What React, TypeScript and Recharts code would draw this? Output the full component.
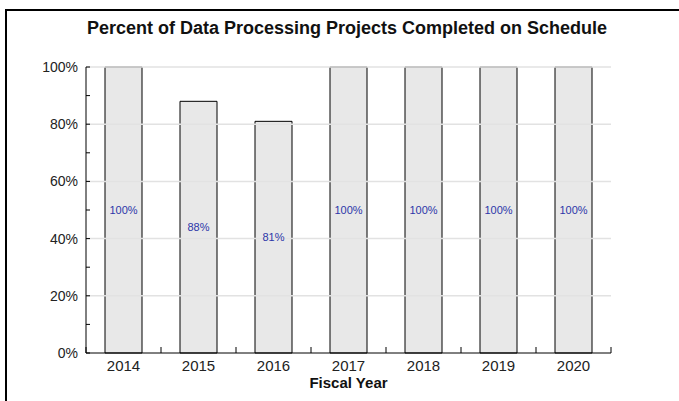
import { BarChart, Bar, XAxis, YAxis, ReferenceLine, LabelList } from "recharts";

const years = ["2014", "2015", "2016", "2017", "2018", "2019", "2020"];
const percentOnSchedule = [100, 88, 81, 100, 100, 100, 100];
const yTicks = [0, 10, 20, 30, 40, 50, 60, 70, 80, 90, 100];
const gridValues = [20, 40, 60, 80, 100];

const data = years.map((year, i) => ({ year, pct: percentOnSchedule[i] }));

const FONT = "'Liberation Sans', Arial, sans-serif";
const PLOT_W = 525;

function YTick(props: any) {
  const { x, y, payload } = props;
  const v = payload.value;
  return (
    <g>
      <line x1={x} x2={x + 4} y1={y} y2={y} stroke="#000" />
      {v % 20 === 0 && (
        <text x={x - 8} y={y} dy={5} textAnchor="end" fontSize={14} fontFamily={FONT} fill="#222">
          {v}%
        </text>
      )}
    </g>
  );
}

function XTick(props: any) {
  const { x, y, payload, index } = props;
  const band = PLOT_W / years.length;
  const right = x + band / 2;
  return (
    <g>
      <line x1={right} x2={right} y1={y} y2={y - 6} stroke="#000" />
      {index === 0 && <line x1={x - band / 2} x2={x - band / 2} y1={y} y2={y - 6} stroke="#000" />}
      <text x={x} y={y + 18} textAnchor="middle" fontSize={15} fontFamily={FONT} fill="#222">
        {payload.value}
      </text>
    </g>
  );
}

export default function App() {
  return (
    <div style={{ position: "absolute", left: 0, top: 0, width: 679, height: 401, background: "#fff" }}>
      <div
        style={{
          position: "absolute",
          left: 5,
          top: 9,
          width: 680,
          height: 400,
          borderTop: "2px solid #000",
          borderLeft: "2px solid #000",
        }}
      />
      <div
        style={{
          position: "absolute",
          left: 0,
          top: 18,
          width: 694,
          textAlign: "center",
          fontFamily: FONT,
          fontWeight: "bold",
          fontSize: 18,
          color: "#111",
        }}
      >
        Percent of Data Processing Projects Completed on Schedule
      </div>
      <div
        style={{
          position: "absolute",
          left: 86,
          width: PLOT_W,
          top: 374,
          textAlign: "center",
          fontFamily: FONT,
          fontWeight: "bold",
          fontSize: 15,
          color: "#111",
        }}
      >
        Fiscal Year
      </div>
      <div style={{ position: "absolute", left: 0, top: 0 }}>
        <BarChart
          width={679}
          height={401}
          data={data}
          margin={{ top: 67, right: 68, bottom: 18, left: 26 }}
        >
          {gridValues.map((g) => (
            <ReferenceLine key={g} y={g} stroke="#e2e2e2" strokeWidth={1.5} />
          ))}
          <XAxis
            dataKey="year"
            height={30}
            tickLine={false}
            tickSize={0}
            tickMargin={0}
            axisLine={{ stroke: "#000" }}
            tick={<XTick />}
            interval={0}
          />
          <YAxis
            width={60}
            domain={[0, 100]}
            ticks={yTicks}
            interval={0}
            tickLine={false}
            tickSize={0}
            tickMargin={0}
            axisLine={{ stroke: "#000" }}
            tick={<YTick />}
          />
          <Bar dataKey="pct" barSize={37} fill="#e8e8e8" stroke="#000" strokeWidth={1} isAnimationActive={false}>
            <LabelList
              dataKey="pct"
              position="center"
              formatter={(v: any) => `${v}%`}
              style={{ fontSize: 11, fontFamily: FONT, fill: "#2c36a8" }}
            />
          </Bar>
        </BarChart>
      </div>
    </div>
  );
}
